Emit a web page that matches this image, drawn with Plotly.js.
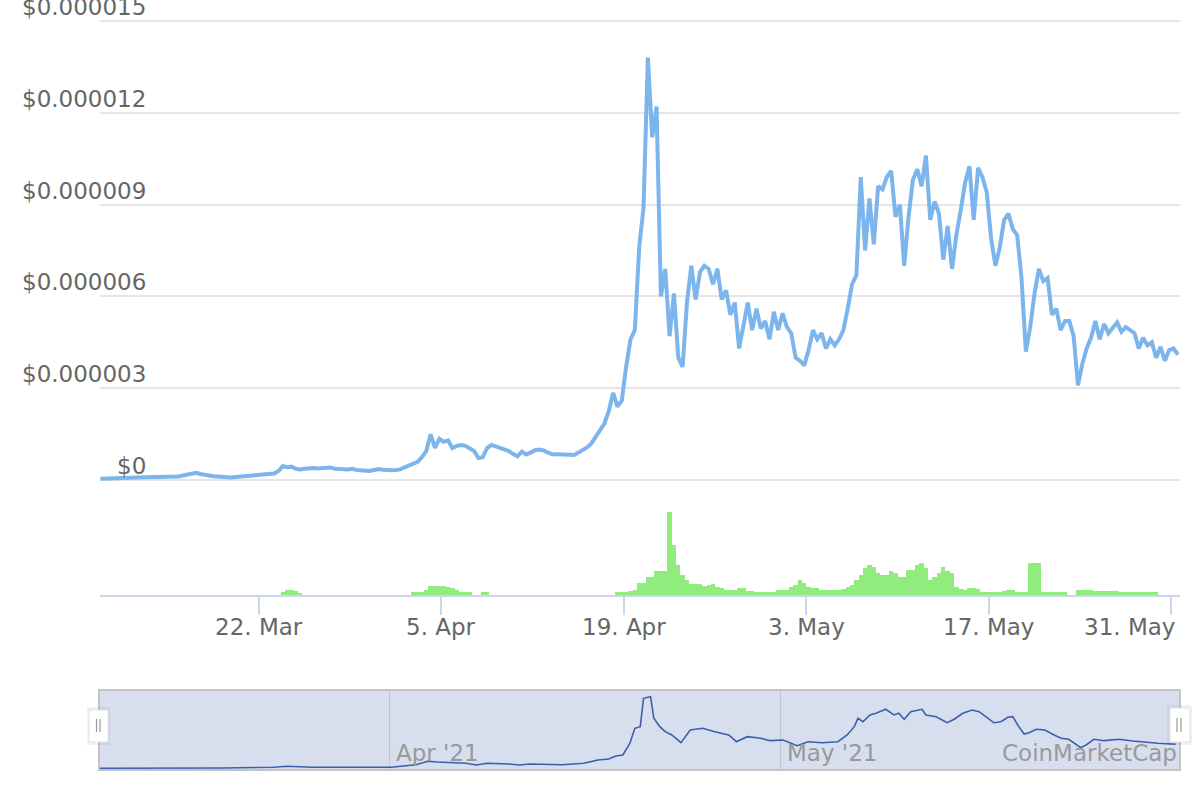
<!DOCTYPE html>
<html><head><meta charset="utf-8">
<script src="https://cdn.plot.ly/plotly-3.0.1.min.js"></script>
<style>html,body{margin:0;padding:0;background:#fff;}#chart{width:1200px;height:800px;}</style>
</head><body><div id="chart"></div>
<script>
// ---- data (prices in millionths of a US dollar) ----
const startTime = '2021-03-09T20:00:00Z';
const stepHours = 8;
const priceMicroUsd = [
  0.05,0.05,0.06,0.06,0.07,0.07,0.08,0.08,0.09,0.09,0.10,
  0.11,0.12,0.12,0.11,0.11,0.11,0.11,
  0.12,0.15,0.19,
  0.22,0.24,0.20,
  0.17,0.14,0.13,0.12,
  0.10,0.09,0.09,0.10,0.11,0.12,0.13,
  0.14,0.15,0.17,0.18,0.20,0.22,
  0.30,0.46,0.42,0.44,0.37,0.35,
  0.37,0.39,0.40,0.38,0.40,0.42,0.41,0.37,0.38,
  0.36,0.35,0.37,0.33,0.32,0.31,0.30,0.33,0.36,0.34,0.32,
  0.32,0.33,0.35,
  0.42,0.47,0.55,0.60,0.75,0.95,1.50,1.05,1.35,1.25,
  1.30,1.05,1.12,1.15,1.12,1.05,0.95,0.72,0.75,1.05,
  1.15,1.10,1.04,1.00,0.95,0.85,0.78,0.93,0.84,0.90,
  0.98,1.00,0.97,0.90,0.85,0.85,0.84,0.84,0.83,0.82,
  0.90,0.98,1.07,1.20,1.40,1.60,1.85,2.25,2.85,2.40,
  2.60,3.70,4.60,4.90,7.60,8.90,13.80,11.20,12.20,6.00,
  6.90,4.70,6.10,4.00,3.70,5.80,7.00,5.90,6.80,7.00,
  6.90,6.40,6.90,5.90,6.20,5.40,5.80,4.30,5.00,5.80,
  4.90,5.60,4.95,5.20,4.60,5.50,4.90,5.45,5.00,4.80,
  4.00,3.90,3.75,4.25,4.90,4.60,4.80,4.30,4.60,4.40,
  4.60,4.90,5.60,6.40,6.70,9.90,7.50,9.20,7.70,9.60,
  9.50,9.90,10.10,8.60,9.00,7.00,8.60,9.80,10.15,9.60,
  10.60,8.50,9.10,8.70,7.20,8.30,6.90,8.00,8.80,9.70,
  10.25,8.50,10.20,9.90,9.40,7.90,7.00,7.60,8.50,8.70,
  8.20,8.00,6.60,4.20,5.00,6.10,6.90,6.50,6.60,5.40,
  5.60,4.90,5.20,5.20,4.70,3.10,3.80,4.30,4.65,5.20,
  4.60,5.10,4.80,5.00,5.15,4.85,5.00,4.90,4.80,4.30,
  4.65,4.40,4.50,4.00,4.35,3.90,4.25,4.30,4.10
];
// relative traded volume (no axis scale shown in the chart)
const volumeRel = [
  0,0,0,0,0,0,0,0,0,0,0,0,0,0,0,0,0,0,0,0,0,0,0,0,0,0,0,0,0,0,0,0,0,0,0,0,0,0,0,0,0,
  0,
  3,5,5,4,2,
  0,0,0,0,0,0,0,0,0,0,0,0,0,0,0,0,0,0,0,0,0,0,0,0,0,
  3.3,3.3,3.3,5,9,9,9,9,8,6.7,5,2.7,2.7,2.7,
  0,0,
  2.7,2.7,
  0,0,0,0,0,0,0,0,0,0,0,0,0,0,0,0,0,0,0,0,0,0,0,0,0,0,0,0,0,
  2.7,2.7,2.7,4,5,11.7,11.7,18,18,24,24,24,
  83,50,30,20,15,11,11,11,9,10,
  10.7,8.3,7,5,5,5,6.7,6.7,4.3,4.3,
  2.7,2.7,2.7,2.7,2.7,5,5,5,8,10,
  15,11.7,8,6.7,6.7,5,5,5,5,5,
  6,8.3,10,15,20,26.7,30,28,21.7,20,
  20,24,22,18.3,18.3,25,25,30,32,26.7,
  15,18,21.7,28.3,24,21.7,8.3,6,5,6.7,
  6.7,6,3.3,3.3,3.3,3.3,3.3,4,5,5,
  2.7,2.7,2.7,32,32,32,2.7,2.7,2.7,2.7,
  2.7,2.7,0,0,5,5,5,5,4.3,4.3,
  4.3,4.3,4.3,4.3,2.7,2.7,2.7,2.7,2.7,2.7,
  2.7,2.7,2.7,0,0,0,0,0
];
// navigator series (coarser, as drawn in the navigator)
const navDates = [
  '2021-03-09 19:00','2021-03-16 11:00','2021-03-19 06:00','2021-03-23 02:00','2021-03-24 04:00',
  '2021-03-26 02:00','2021-03-30 05:00','2021-04-01 03:00','2021-04-03 01:00','2021-04-03 23:00',
  '2021-04-04 16:00','2021-04-06 01:00','2021-04-06 21:00','2021-04-07 16:00','2021-04-08 12:00',
  '2021-04-10 04:00','2021-04-10 23:00','2021-04-11 19:00','2021-04-14 06:00','2021-04-15 22:00',
  '2021-04-17 00:00','2021-04-17 20:00','2021-04-18 09:00','2021-04-18 22:00','2021-04-19 11:00',
  '2021-04-19 20:00','2021-04-20 06:00','2021-04-20 12:00','2021-04-21 01:00','2021-04-21 07:00',
  '2021-04-21 18:00','2021-04-22 04:00','2021-04-22 16:00','2021-04-23 09:00','2021-04-24 02:00',
  '2021-04-25 01:00','2021-04-25 23:00','2021-04-27 01:00','2021-04-27 15:00','2021-04-28 11:00',
  '2021-04-29 12:00','2021-04-30 05:00','2021-05-01 05:00','2021-05-02 07:00','2021-05-03 03:00',
  '2021-05-04 05:00','2021-05-05 10:00','2021-05-06 03:00','2021-05-06 16:00','2021-05-06 23:00',
  '2021-05-07 08:00','2021-05-07 21:00','2021-05-08 08:00','2021-05-09 02:00','2021-05-09 17:00',
  '2021-05-10 02:00','2021-05-10 12:00','2021-05-11 00:00','2021-05-11 21:00','2021-05-12 04:00',
  '2021-05-12 23:00','2021-05-13 19:00','2021-05-14 08:00','2021-05-15 00:00','2021-05-15 17:00',
  '2021-05-16 06:00','2021-05-17 09:00','2021-05-17 22:00','2021-05-18 11:00','2021-05-18 20:00',
  '2021-05-19 07:00','2021-05-19 17:00','2021-05-20 02:00','2021-05-20 15:00','2021-05-21 07:00',
  '2021-05-22 00:00','2021-05-22 13:00','2021-05-23 03:00','2021-05-23 13:00','2021-05-24 01:00',
  '2021-05-24 11:00','2021-05-25 01:00','2021-05-25 20:00','2021-05-26 23:00','2021-05-28 01:00',
  '2021-05-28 22:00','2021-05-29 23:00','2021-05-31 08:00'
];
const navPriceMicroUsd = [
  0.05,0.05,0.10,0.23,0.42,0.23,0.15,0.23,0.73,1.39,
  1.25,1.06,1.00,0.68,1.00,0.87,0.68,0.87,0.73,1.00,
  1.64,1.83,2.41,2.61,4.87,7.76,8.07,13.55,13.86,9.69,
  8.07,7.10,6.47,4.98,7.43,7.76,7.10,6.47,5.17,6.14,
  5.83,5.37,5.50,4.40,5.17,4.98,5.17,6.47,8.07,9.69,
  9.03,10.33,10.66,11.43,10.33,10.66,9.50,10.97,11.43,10.33,
  10.00,8.84,9.50,10.66,11.29,10.97,8.84,9.03,9.88,10.00,
  8.07,6.66,6.91,7.57,7.43,6.47,5.83,5.64,4.86,4.02,
  4.54,5.64,5.37,5.64,5.31,5.06,4.86,4.67
];
const priceTickVals = [0, 3, 6, 9, 12, 15];
const priceTickLabels = ['$0', '$0.000003', '$0.000006', '$0.000009', '$0.000012', '$0.000015'];
const dateTickVals = ['2021-03-22', '2021-04-05', '2021-04-19', '2021-05-03', '2021-05-17', '2021-05-31'];
const dateTickLabels = ['22. Mar', '5. Apr', '19. Apr', '3. May', '17. May', '31. May'];
const navTickVals = ['2021-04-01', '2021-05-01'];
const navTickLabels = ["Apr '21", "May '21"];
const watermark = 'CoinMarketCap';

// ---- time grid for the sampled series ----
const t0 = Date.parse(startTime);
function fmt(ms) { return new Date(ms).toISOString().slice(0, 16).replace('T', ' '); }
const times = priceMicroUsd.map((_, i) => fmt(t0 + i * stepHours * 3600 * 1000));

// ---- layout helpers (pixel -> paper) ----
const W = 1200, H = 800, L = 100, R = 20;
const PW = W - L - R;
const px = x => (x - L) / PW;
const py = y => (H - y) / H;

const FONT = 'DejaVu Sans, Verdana, sans-serif';
const xRange = ['2021-03-09 19:12', '2021-05-31 15:50'];

const traces = [
  { type: 'bar', x: times, y: volumeRel, xaxis: 'x', yaxis: 'y2',
    width: stepHours * 3600 * 1000, marker: { color: '#90ed7d', line: { width: 0 } }, hoverinfo: 'skip' },
  { type: 'scatter', mode: 'lines', x: times, y: priceMicroUsd, xaxis: 'x', yaxis: 'y',
    line: { color: '#7cb5ec', width: 4, shape: 'linear' }, hoverinfo: 'skip' },
  { type: 'scatter', mode: 'lines', x: navDates, y: navPriceMicroUsd, xaxis: 'x2', yaxis: 'y3',
    line: { color: '#3b5fae', width: 1.6 }, hoverinfo: 'skip' }
];

const annotations = [];
priceTickVals.forEach((v, i) => annotations.push({
  xref: 'paper', yref: 'y', x: px(148), y: v, xanchor: 'right', yanchor: 'bottom',
  text: priceTickLabels[i], showarrow: false, font: { family: FONT, size: 23, color: '#666666' }, yshift: -1
}));
dateTickVals.forEach((v, i) => {
  const last = i === dateTickVals.length - 1;
  annotations.push({
    xref: 'x', yref: 'paper', x: v, y: py(612), xanchor: last ? 'right' : 'center', yanchor: 'top',
    xshift: last ? 6 : 0,
    text: dateTickLabels[i], showarrow: false, font: { family: FONT, size: 23, color: '#666666' }
  });
});
navTickVals.forEach((v, i) => annotations.push({
  xref: 'x2', yref: 'paper', x: v, y: py(753), xanchor: 'left', yanchor: 'middle', xshift: 5,
  text: navTickLabels[i], showarrow: false, font: { family: FONT, size: 23, color: '#999999' }
}));
annotations.push({
  xref: 'paper', yref: 'paper', x: px(1179), y: py(753), xanchor: 'right', yanchor: 'middle',
  text: watermark, showarrow: false, font: { family: FONT, size: 23, color: '#9a9a9a' }
});

const shapes = [
  // navigator mask
  { type: 'rect', xref: 'paper', yref: 'paper', x0: px(99), x1: px(1180), y0: py(770), y1: py(690),
    fillcolor: 'rgba(102,133,194,0.26)', line: { width: 0 }, layer: 'below' },
  // navigator outline
  { type: 'rect', xref: 'paper', yref: 'paper', x0: px(99), x1: px(1180), y0: py(770), y1: py(690),
    fillcolor: 'rgba(0,0,0,0)', line: { color: '#c4c4c4', width: 2 }, layer: 'above' },
  // handles: shadows
  { type: 'rect', xref: 'paper', yref: 'paper', x0: px(87), x1: px(110), y0: py(745), y1: py(707),
    fillcolor: 'rgba(0,0,0,0.05)', line: { width: 0 }, layer: 'above' },
  { type: 'rect', xref: 'paper', yref: 'paper', x0: px(1167), x1: px(1192), y0: py(745), y1: py(705),
    fillcolor: 'rgba(0,0,0,0.05)', line: { width: 0 }, layer: 'above' },
  // handles
  { type: 'rect', xref: 'paper', yref: 'paper', x0: px(89), x1: px(108), y0: py(742), y1: py(710),
    fillcolor: '#ffffff', line: { color: '#e2e2e2', width: 1 }, layer: 'above' },
  { type: 'rect', xref: 'paper', yref: 'paper', x0: px(1170), x1: px(1190), y0: py(742), y1: py(708),
    fillcolor: '#ffffff', line: { color: '#e2e2e2', width: 1 }, layer: 'above' },
  { type: 'line', xref: 'paper', yref: 'paper', x0: px(96.5), x1: px(96.5), y0: py(732), y1: py(719),
    line: { color: '#9a9a9a', width: 1.2 }, layer: 'above' },
  { type: 'line', xref: 'paper', yref: 'paper', x0: px(100), x1: px(100), y0: py(732), y1: py(719),
    line: { color: '#9a9a9a', width: 1.2 }, layer: 'above' },
  { type: 'line', xref: 'paper', yref: 'paper', x0: px(1177), x1: px(1177), y0: py(732), y1: py(718),
    line: { color: '#9a9a9a', width: 1.2 }, layer: 'above' },
  { type: 'line', xref: 'paper', yref: 'paper', x0: px(1181), x1: px(1181), y0: py(732), y1: py(718),
    line: { color: '#9a9a9a', width: 1.2 }, layer: 'above' }
];

const layout = {
  width: W, height: H,
  margin: { l: L, r: R, t: 0, b: 0, pad: 0 },
  paper_bgcolor: '#ffffff', plot_bgcolor: 'rgba(0,0,0,0)',
  showlegend: false, hovermode: false, bargap: 0,
  font: { family: FONT, size: 23, color: '#666666' },
  xaxis: {
    type: 'date', range: xRange, domain: [0, 1], anchor: 'y2',
    showgrid: false, zeroline: false,
    showline: true, linecolor: '#ccd6eb', linewidth: 2,
    ticks: 'outside', ticklen: 18, tickwidth: 2, tickcolor: '#ccd6eb',
    tickmode: 'array', tickvals: dateTickVals, showticklabels: false
  },
  yaxis: {
    domain: [py(482), 1], range: [-0.06, 15.68], anchor: 'x',
    tickmode: 'array', tickvals: priceTickVals, showticklabels: false,
    showgrid: true, gridcolor: '#e6e6e6', gridwidth: 2, zeroline: false, showline: false, ticks: ''
  },
  yaxis2: {
    domain: [py(595), py(490)], range: [0, 105], anchor: 'x',
    showgrid: false, zeroline: false, showline: false, showticklabels: false, ticks: ''
  },
  xaxis2: {
    type: 'date', range: xRange, domain: [0, 1], anchor: 'y3',
    tickmode: 'array', tickvals: navTickVals, showticklabels: false, ticks: '',
    showgrid: true, gridcolor: '#bfc6d2', gridwidth: 1.5, zeroline: false, showline: false
  },
  yaxis3: {
    domain: [py(770), py(690)], range: [-0.29, 15.15], anchor: 'x2',
    showgrid: false, zeroline: false, showline: false, showticklabels: false, ticks: ''
  },
  annotations: annotations,
  shapes: shapes
};

Plotly.newPlot('chart', traces, layout, { displayModeBar: false, staticPlot: true });
</script>
</body></html>
